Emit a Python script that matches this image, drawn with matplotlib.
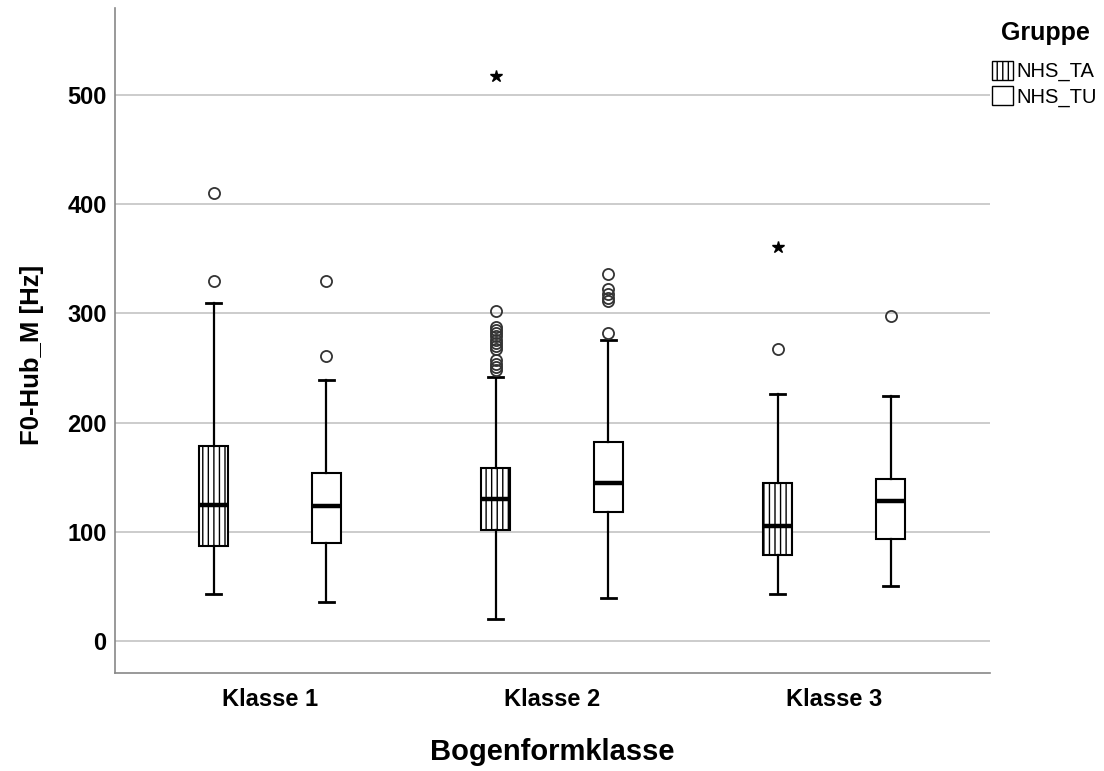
import matplotlib
matplotlib.use('Agg')
import matplotlib.pyplot as plt
from matplotlib.patches import Patch

plt.rcParams['font.family'] = ['Liberation Sans', 'DejaVu Sans']
plt.rcParams['hatch.linewidth'] = 1.0

klassen = ['Klasse 1', 'Klasse 2', 'Klasse 3']
gruppen = ['NHS_TA', 'NHS_TU']

# box statistics per class: whisker low, Q1, median, Q3, whisker high
ta_stats = [[43, 87, 125, 179, 310], [20, 102, 130, 158, 242], [43, 79, 105, 145, 226]]
tu_stats = [[36, 90, 124, 154, 239], [39, 118, 145, 182, 276], [50, 93, 128, 148, 224]]

# outliers (circles) and extreme values (stars)
ta_outliers = [[330, 410],
               [248, 251, 254, 257, 267, 270, 273, 276, 279, 282, 285, 288, 302],
               [267]]
tu_outliers = [[261, 330], [282, 311, 314, 318, 322, 336], [298]]
ta_extremes = [[], [517], [361]]
tu_extremes = [[], [], []]

yticks = [0, 100, 200, 300, 400, 500]


def make_stats(stats, fliers):
    out = []
    for s, f in zip(stats, fliers):
        out.append({'whislo': s[0], 'q1': s[1], 'med': s[2], 'q3': s[3],
                    'whishi': s[4], 'fliers': f})
    return out


fig = plt.figure(figsize=(11.04, 7.71), dpi=100)
ax = fig.add_axes([0.1042, 0.1271, 0.7926, 0.8625])

offset = 0.2
width = 0.103
common = dict(widths=width, patch_artist=True, showfliers=True,
              capwidths=width * 0.5,
              boxprops=dict(facecolor='white', edgecolor='black', linewidth=1.5),
              whiskerprops=dict(color='black', linewidth=1.6),
              capprops=dict(color='black', linewidth=2.0),
              medianprops=dict(color='black', linewidth=3.2),
              flierprops=dict(marker='o', markerfacecolor='none',
                              markeredgecolor='#333333', markersize=8,
                              markeredgewidth=1.3))

x = list(range(len(klassen)))
ta = ax.bxp(make_stats(ta_stats, ta_outliers),
            positions=[i - offset for i in x], **common)
tu = ax.bxp(make_stats(tu_stats, tu_outliers),
            positions=[i + offset for i in x], **common)
for b in ta['boxes']:
    b.set_hatch('|||')

for i in x:
    if ta_extremes[i]:
        ax.plot([i - offset] * len(ta_extremes[i]), ta_extremes[i], '*',
                color='black', markersize=9)
    if tu_extremes[i]:
        ax.plot([i + offset] * len(tu_extremes[i]), tu_extremes[i], '*',
                color='black', markersize=9)

ax.set_xlim(-0.5496, 2.553)
ax.set_ylim(-29.3, 579.7)
ax.set_xticks(x)
ax.set_xticklabels(klassen, fontsize=17, fontweight='bold')
ax.set_yticks(yticks)
ax.set_yticklabels([str(v) for v in yticks], fontsize=17, fontweight='bold')
ax.tick_params(axis='both', length=0)
ax.tick_params(axis='x', pad=11)
ax.tick_params(axis='y', pad=6)

ax.yaxis.grid(True, color='#c4c4c4', linewidth=1.2)
ax.set_axisbelow(True)
for side in ['top', 'right']:
    ax.spines[side].set_visible(False)
for side in ['left', 'bottom']:
    ax.spines[side].set_color('#888888')
    ax.spines[side].set_linewidth(1.2)

ax.set_ylabel('F0-Hub_M [Hz]', fontsize=18.5, fontweight='bold')
ax.yaxis.set_label_coords(-0.081, 0.478)
ax.set_xlabel('Bogenformklasse', fontsize=21, fontweight='bold')
ax.xaxis.set_label_coords(0.5, -0.0977)

# legend: title as separate text, entries below it
fig.text(1045 / 1104, 1 - 33 / 771, 'Gruppe', ha='center', va='center',
         fontsize=18, fontweight='bold')
handles = [Patch(facecolor='white', edgecolor='black', hatch='|||', label=gruppen[0]),
           Patch(facecolor='white', edgecolor='black', label=gruppen[1])]
fig.legend(handles=handles, loc='upper left',
           bbox_to_anchor=(992 / 1104, 1 - 61 / 771),
           frameon=False, fontsize=14.5,
           handlelength=1.05, handleheight=1.05, handletextpad=0.15,
           labelspacing=0.25, borderpad=0.0, borderaxespad=0.0)

fig.savefig('out.png', dpi=100)
